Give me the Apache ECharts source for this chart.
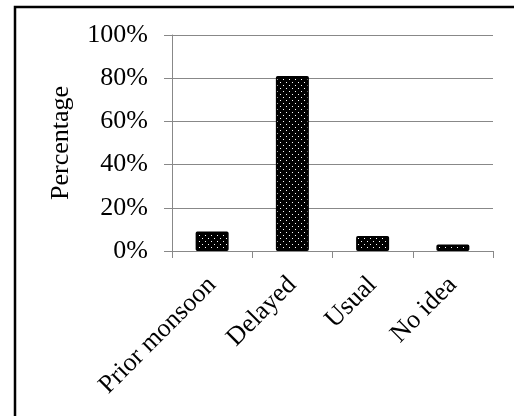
<!DOCTYPE html>
<html>
<head>
<meta charset="utf-8">
<script src="https://cdn.jsdelivr.net/npm/echarts@6/dist/echarts.min.js"></script>
<style>
html,body{margin:0;padding:0;background:#fff;}
#chart{width:514px;height:416px;}
</style>
</head>
<body>
<div id="chart"></div>
<script>
var categories = ['Prior monsoon', 'Delayed', 'Usual', 'No idea'];
var values = [9, 81, 7, 3];
var yTicks = [0, 20, 40, 60, 80, 100];
var yName = 'Percentage';

function makePattern() {
  var c = document.createElement('canvas');
  c.width = 6; c.height = 6;
  var ctx = c.getContext('2d');
  ctx.fillStyle = '#000';
  ctx.fillRect(0, 0, 6, 6);
  ctx.fillStyle = '#fff';
  ctx.fillRect(1, 1, 1, 1);
  ctx.fillRect(4, 4, 1, 1);
  return c;
}

var chart = echarts.init(document.getElementById('chart'), null, {renderer: 'canvas'});
var font = 'Liberation Serif';
chart.setOption({
  animation: false,
  backgroundColor: '#fff',
  graphic: [{
    type: 'rect',
    shape: {x: 15, y: 7, width: 520, height: 430},
    style: {fill: 'none', stroke: '#000', lineWidth: 2.5},
    silent: true
  }],
  grid: {left: 172, right: 21, top: 35, bottom: 165, containLabel: false},
  xAxis: {
    type: 'category',
    data: categories,
    axisLine: {show: true, lineStyle: {color: '#888', width: 1}},
    axisTick: {show: true, length: 7, inside: false, lineStyle: {color: '#888'}},
    axisLabel: {rotate: 45, margin: 30, color: '#000', fontFamily: font, fontSize: 26, interval: 0}
  },
  yAxis: {
    type: 'value',
    min: yTicks[0], max: yTicks[yTicks.length - 1], interval: 20,
    name: yName,
    nameLocation: 'middle',
    nameGap: 98,
    nameRotate: 90,
    nameTextStyle: {color: '#000', fontFamily: font, fontSize: 26},
    axisLine: {show: true, lineStyle: {color: '#888', width: 1}},
    axisTick: {show: true, length: 8, lineStyle: {color: '#888'}},
    splitLine: {show: true, lineStyle: {color: '#888', width: 1}},
    axisLabel: {margin: 24, color: '#000', fontFamily: font, fontSize: 26, formatter: '{value}%'}
  },
  series: [{
    type: 'bar',
    data: values,
    barWidth: 33,
    itemStyle: {
      color: {image: makePattern(), repeat: 'repeat'},
      borderColor: '#000',
      borderWidth: 1.5,
      borderRadius: 1
    }
  }]
});
</script>
</body>
</html>
